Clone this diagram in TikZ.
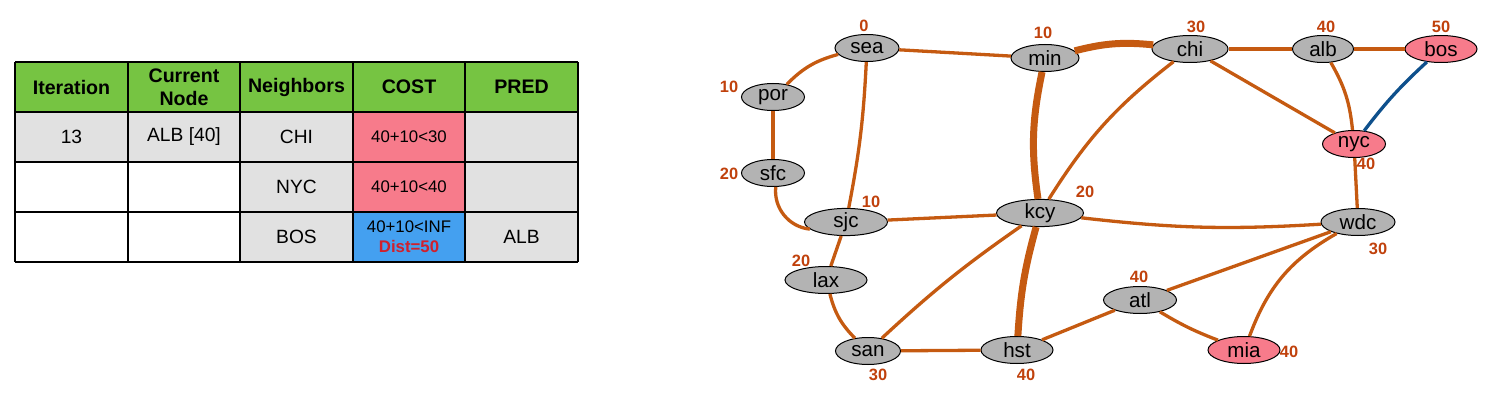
\documentclass[tikz,border=0pt]{standalone}
\usepackage{fontspec}
\setmainfont{Liberation Sans}
\usetikzlibrary{shapes.geometric}

\definecolor{headGreen}{RGB}{118,196,66}
\definecolor{cellGray}{RGB}{225,225,225}
\definecolor{costPink}{RGB}{247,123,139}
\definecolor{costBlue}{RGB}{68,160,240}
\definecolor{distRed}{RGB}{208,32,44}
\definecolor{cityGray}{RGB}{179,179,179}
\definecolor{roadOrange}{RGB}{197,90,17}
\definecolor{roadBlue}{RGB}{14,80,140}
\definecolor{labelRed}{RGB}{192,65,12}

\tikzset{
  city/.style={ellipse, draw, line width=0.5pt, fill=cityGray, inner sep=0pt,
    minimum height=13.5pt, font=\fontsize{10.3}{12}\selectfont},
  visited/.style={city, fill=costPink},
  road/.style={draw=roadOrange, line width=1.65pt},
  mainroad/.style={road, line width=3.5pt},
  newroad/.style={draw=roadBlue, line width=1.65pt},
  dist/.style={text=labelRed, inner sep=0pt, font=\bfseries\fontsize{8.2}{10}\selectfont},
  grid/.style={line width=0.6pt},
  headtext/.style={align=center, inner sep=0pt, font=\bfseries\fontsize{9.8}{11.5}\selectfont},
  celltext/.style={align=center, inner sep=0pt, font=\fontsize{9.6}{11}\selectfont},
  costtext/.style={align=center, inner sep=0pt, font=\fontsize{8.4}{11}\selectfont}
}

\begin{document}
\begin{tikzpicture}[x=0.5pt, y=-0.5pt]
\useasboundingbox (0,0) rectangle (1493,401);

% table
\fill[headGreen] (15,62) rectangle (578,112);
\fill[cellGray] (15,112) rectangle (578,162);
\fill[cellGray] (240,162) rectangle (578,262);
\fill[costPink] (353,112) rectangle (465,212);
\fill[costBlue] (353,212) rectangle (465,262);
\foreach \x in {15,128,240,353,465,578}
  \draw[grid] (\x,62) -- (\x,262);
\foreach \y in {62,112,162,212,262}
  \draw[grid] (15,\y) -- (578,\y);

\node[headtext] (hIter) at (71.5,87) {Iteration};
\node[headtext] (hCur) at (184,87) {Current\\Node};
\node[headtext] (hNeigh) at (296.5,87) {Neighbors};
\node[headtext] (hCost) at (409,87) {COST};
\node[headtext] (hPred) at (521.5,87) {PRED};

\node[celltext] (iter) at (71.5,137) {13};
\node[celltext] (cur) at (184,137) {ALB [40]};
\node[celltext] (nChi) at (296.5,137) {CHI};
\node[costtext] (cChi) at (409,137) {40+10<30};
\node[celltext] (nNyc) at (296.5,187) {NYC};
\node[costtext] (cNyc) at (409,187) {40+10<40};
\node[celltext] (nBos) at (296.5,237) {BOS};
\node[costtext] (cBos) at (409,237) {40+10<INF\\[-1pt]{\bfseries\color{distRed}Dist=50}};
\node[celltext] (pBos) at (521.5,237) {ALB};

% cities
\node[city, minimum width=32pt] (sea) at (867,48) {sea};
\node[city, minimum width=34pt] (min) at (1045,58) {min};
\node[city, minimum width=31.5pt] (por) at (773,97) {por};
\node[city, minimum width=31.5pt] (sfc) at (773,173) {sfc};
\node[city, minimum width=38pt] (chi) at (1190,49) {chi};
\node[city, minimum width=30.5pt] (alb) at (1323,49) {alb};
\node[visited, minimum width=36pt] (bos) at (1441,49) {bos};
\node[visited, minimum width=31.5pt] (nyc) at (1354,144) {nyc};
\node[city, minimum width=41.5pt] (sjc) at (846,222) {sjc};
\node[city, minimum width=43.5pt] (kcy) at (1040,213) {kcy};
\node[city, minimum width=41pt] (lax) at (826,280) {lax};
\node[city, minimum width=32.5pt] (san) at (868,351) {san};
\node[city, minimum width=36pt] (hst) at (1017,350) {hst};
\node[city, minimum width=36.5pt] (atl) at (1140,300) {atl};
\node[visited, minimum width=36pt] (mia) at (1244,350) {mia};
\node[city, minimum width=37pt] (wdc) at (1358,222) {wdc};

% distances
\node[dist] (dSea) at (864,26) {0};
\node[dist] (dMin) at (1043,33) {10};
\node[dist] (dPor) at (729,87) {10};
\node[dist] (dSfc) at (729,174) {20};
\node[dist] (dSjc) at (871,202) {10};
\node[dist] (dKcy) at (1085,192) {20};
\node[dist] (dLax) at (801,261) {20};
\node[dist] (dSan) at (878,375) {30};
\node[dist] (dHst) at (1026,375) {40};
\node[dist] (dAtl) at (1139,277) {40};
\node[dist] (dMia) at (1289,352) {40};
\node[dist] (dWdc) at (1378,249) {30};
\node[dist] (dNyc) at (1366,164) {40};
\node[dist] (dChi) at (1196,27) {30};
\node[dist] (dAlb) at (1326,27) {40};
\node[dist] (dBos) at (1441,27) {50};

% roads
\draw[road] (sea) to[bend right=15] (por);
\draw[road] (sea) -- (min);
\draw[road] (sea) to[bend left=4] (sjc);
\draw[road] (por) -- (sfc);
\draw[road] (sfc) to[bend right=45] (sjc);
\draw[mainroad] (min) to[bend left=10] (chi);
\draw[mainroad] (min) to[bend right=10] (kcy);
\draw[road] (chi) -- (alb);
\draw[road] (chi) to[bend right=10] (kcy);
\draw[road] (chi) -- (nyc);
\draw[road] (alb) -- (bos);
\draw[road] (alb) to[bend left=12] (nyc);
\draw[newroad] (bos) to[bend right=5] (nyc);
\draw[road] (nyc) -- (wdc);
\draw[road] (sjc) -- (kcy);
\draw[road] (sjc) -- (lax);
\draw[road] (kcy) to[bend right=5] (wdc);
\draw[road] (kcy) to[bend right=4] (san);
\draw[mainroad] (kcy) to[bend right=6] (hst);
\draw[road] (lax) to[bend right=15] (san);
\draw[road] (san) -- (hst);
\draw[road] (hst) -- (atl);
\draw[road] (atl) -- (wdc);
\draw[road] (atl) to[bend right=5] (mia);
\draw[road] (wdc) to[bend right=20] (mia);
\end{tikzpicture}
\end{document}
